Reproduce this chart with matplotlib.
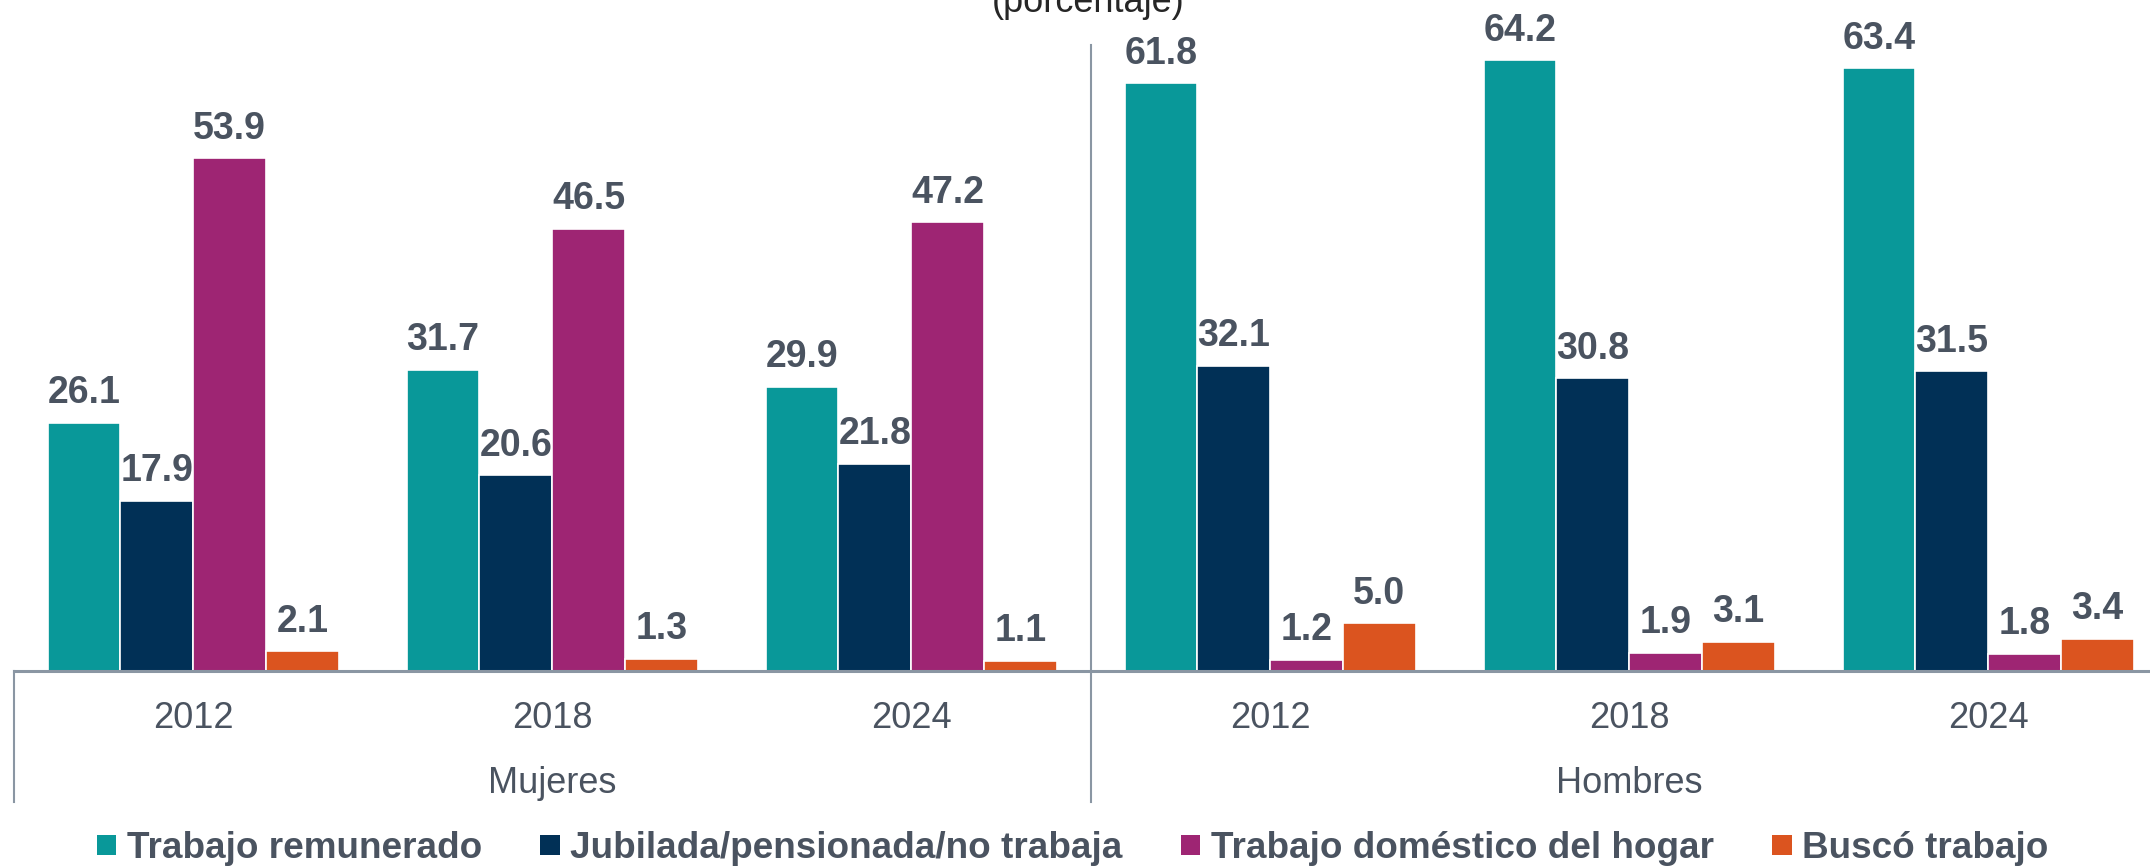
import matplotlib
matplotlib.use("Agg")
import matplotlib.pyplot as plt
from matplotlib.patches import Patch

# ---- data ----
years = ["2012", "2018", "2024"]
groups = ["Mujeres", "Hombres"]
series = ["Trabajo remunerado", "Jubilada/pensionada/no trabaja",
          "Trabajo doméstico del hogar", "Buscó trabajo"]
trabajo_remunerado = [26.1, 31.7, 29.9, 61.8, 64.2, 63.4]
jubilada = [17.9, 20.6, 21.8, 32.1, 30.8, 31.5]
trabajo_domestico = [53.9, 46.5, 47.2, 1.2, 1.9, 1.8]
busco_trabajo = [2.1, 1.3, 1.1, 5.0, 3.1, 3.4]
title = "(porcentaje)"

colors = ["#099899", "#013056", "#9e2573", "#db541f"]
label_color = "#4a5360"
axis_color = "#8a96a3"

plt.rcParams['font.family'] = ['Liberation Sans', 'DejaVu Sans']

W, H = 2150, 868
fig = plt.figure(figsize=(W / 100, H / 100), dpi=100)
left_px = 13.7
base_px = 671
ax_h_px = 665.7
ax = fig.add_axes([left_px / W, (H - base_px) / H, 1 - left_px / W, ax_h_px / H])

n_cat = len(years) * len(groups)
ax.set_xlim(-0.5, -0.5 + (W - left_px) / 359.0)
ax.set_ylim(0, 70)
for s in ax.spines.values():
    s.set_visible(False)
ax.set_xticks([])
ax.set_yticks([])

values = [trabajo_remunerado, jubilada, trabajo_domestico, busco_trabajo]
w = 0.2027
for si, (vals, col, name) in enumerate(zip(values, colors, series)):
    xs = [i + (si - 1.5) * w for i in range(n_cat)]
    ax.bar(xs, vals, width=w, color=col, edgecolor="white", linewidth=1.2, zorder=2)
    for x, v in zip(xs, vals):
        ax.annotate(f"{v:.1f}", (x, v), xytext=(0, 14), textcoords="offset points",
                    ha="center", va="baseline", fontsize=27, fontweight="bold",
                    color=label_color, zorder=5)

# axis baseline
ax.axhline(0, color=axis_color, lw=2.2, zorder=3, clip_on=False)
tr = ax.get_xaxis_transform()
ybot = -131 / ax_h_px
ax.plot([-0.5, -0.5], [0, ybot], transform=tr, color=axis_color, lw=1.5, clip_on=False)
ax.plot([2.5, 2.5], [(base_px - 45) / ax_h_px, ybot], transform=tr, color=axis_color,
        lw=1.5, clip_on=False)

# category labels
for gi, g in enumerate(groups):
    for yi, y in enumerate(years):
        ax.text(gi * len(years) + yi, -57 / ax_h_px, y, transform=tr, ha="center",
                va="baseline", fontsize=26, color=label_color)
    ax.text(gi * len(years) + 1, -122 / ax_h_px, g, transform=tr, ha="center",
            va="baseline", fontsize=26, color=label_color)

fig.text(1088 / W, 1 - 12 / H, title, ha="center", va="baseline", fontsize=26,
         color="#262626")

handles = [Patch(facecolor=c, edgecolor="none") for c in colors]
leg = fig.legend(handles, series, loc="center", bbox_to_anchor=(1072.5 / W, (H - 848.6) / H),
                 ncol=4, frameon=False, fontsize=26.6, handlelength=0.53, handleheight=0.435,
                 handletextpad=0.28, columnspacing=1.58, borderpad=0, borderaxespad=0)
for t in leg.get_texts():
    t.set_color(label_color)
    t.set_fontweight("bold")

fig.savefig("out.png", dpi=100)
